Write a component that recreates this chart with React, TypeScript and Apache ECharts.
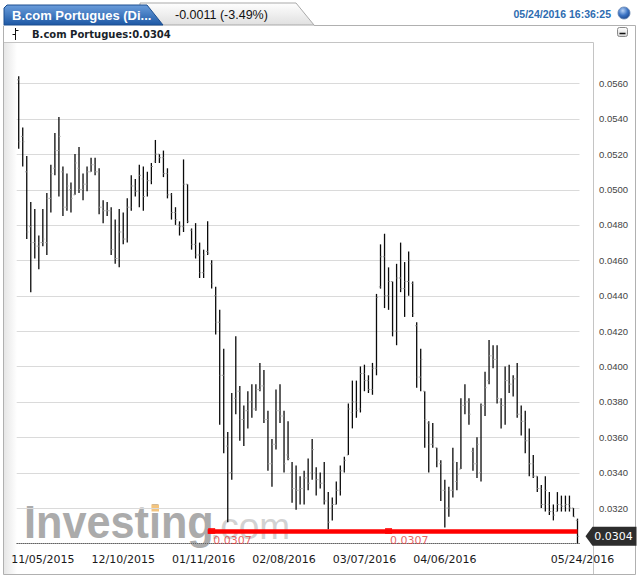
import React, { useEffect, useRef } from "react";
import * as echarts from "echarts";

// ---- Data ----
const highs = [
  0.0564, 0.0535, 0.0519, 0.0493, 0.0489, 0.0474, 0.0489, 0.0498, 0.0514, 0.0532,
  0.0541, 0.0513, 0.0509, 0.0504, 0.052, 0.0524, 0.0509, 0.0513, 0.0518, 0.0518,
  0.0512, 0.0494, 0.0493, 0.049, 0.0483, 0.0489, 0.0487, 0.0495, 0.0508, 0.0506,
  0.0514, 0.0513, 0.051, 0.0515, 0.0528, 0.052, 0.0522, 0.0512, 0.0498, 0.049,
  0.0482, 0.0517, 0.0503, 0.0478, 0.0481, 0.047, 0.0466, 0.0482, 0.046, 0.0445,
  0.0432, 0.041, 0.0363, 0.0385, 0.0417, 0.0389, 0.0378, 0.0386, 0.039, 0.039,
  0.0402, 0.0398, 0.0375, 0.0359, 0.0387, 0.039, 0.0375, 0.0369, 0.0346, 0.0344,
  0.0338, 0.0341, 0.0348, 0.0359, 0.0343, 0.034, 0.0346, 0.0329, 0.0326, 0.0335,
  0.0344, 0.0349, 0.0379, 0.0392, 0.0392, 0.04, 0.0401, 0.0395, 0.0402, 0.0441,
  0.0469, 0.0475, 0.0456, 0.0448, 0.0458, 0.047, 0.0459, 0.0465, 0.0448, 0.0425,
  0.041, 0.0386, 0.0369, 0.0368, 0.0354, 0.0347, 0.0336, 0.0332, 0.0354, 0.0346,
  0.0382, 0.039, 0.0382, 0.0354, 0.036, 0.0379, 0.0397, 0.0415, 0.0412, 0.0412,
  0.0382, 0.04, 0.0401, 0.0395, 0.0402, 0.0378, 0.0375, 0.0365, 0.035, 0.0338,
  0.0333, 0.0338, 0.0329, 0.0322, 0.0329, 0.0327, 0.0327, 0.0327, 0.032, 0.0314,
];
const lows = [
  0.0523, 0.0513, 0.0472, 0.0442, 0.0461, 0.0455, 0.0468, 0.0463, 0.0487, 0.0508,
  0.0496, 0.0485, 0.0488, 0.0487, 0.0497, 0.0498, 0.0494, 0.0499, 0.051, 0.0508,
  0.0486, 0.0481, 0.0485, 0.0463, 0.0458, 0.0456, 0.0469, 0.047, 0.0488, 0.0496,
  0.049, 0.0488, 0.0496, 0.0503, 0.0515, 0.0515, 0.0507, 0.0495, 0.0483, 0.048,
  0.0474, 0.0476, 0.0481, 0.0466, 0.0461, 0.045, 0.045, 0.0463, 0.0444, 0.0418,
  0.0367, 0.0351, 0.0312, 0.0336, 0.0373, 0.0358, 0.0355, 0.0365, 0.0371, 0.0375,
  0.0386, 0.0368, 0.0341, 0.0332, 0.0353, 0.0368, 0.034, 0.0347, 0.0323, 0.0319,
  0.0322, 0.0322, 0.033, 0.0336, 0.0327, 0.0331, 0.0322, 0.0308, 0.0313, 0.0322,
  0.0327, 0.034, 0.035, 0.0365, 0.0371, 0.0374, 0.0386, 0.0385, 0.0384, 0.0395,
  0.0444, 0.0433, 0.0432, 0.0417, 0.0412, 0.0442, 0.0428, 0.044, 0.0428, 0.0388,
  0.0386, 0.0354, 0.034, 0.0354, 0.0343, 0.0324, 0.0309, 0.0315, 0.0326, 0.033,
  0.0342, 0.0373, 0.0367, 0.0341, 0.0337, 0.0335, 0.0372, 0.039, 0.0399, 0.0379,
  0.0365, 0.0367, 0.0385, 0.0383, 0.0371, 0.0361, 0.0351, 0.0338, 0.0337, 0.0329,
  0.032, 0.0318, 0.0316, 0.0313, 0.0318, 0.0318, 0.0318, 0.0318, 0.0315, 0.03,
];
const opens = [
  0.0562, 0.053, 0.051, 0.0479, 0.047, 0.0468, 0.047, 0.047, 0.0495, 0.0512,
  0.0522, 0.051, 0.049, 0.05, 0.0497, 0.0512, 0.05, 0.0503, 0.051, 0.0514,
  0.051, 0.049, 0.0488, 0.0488, 0.0466, 0.0461, 0.0476, 0.0472, 0.049, 0.0502,
  0.0499, 0.0506, 0.0499, 0.0505, 0.0516, 0.052, 0.0518, 0.0509, 0.0497, 0.0487,
  0.048, 0.0479, 0.0503, 0.0477, 0.0469, 0.0463, 0.0453, 0.0465, 0.0458, 0.044,
  0.0425, 0.0395, 0.0355, 0.034, 0.0382, 0.0386, 0.037, 0.0375, 0.038, 0.0376,
  0.0387, 0.0389, 0.037, 0.0345, 0.0356, 0.0375, 0.0372, 0.035, 0.034, 0.0331,
  0.033, 0.0331, 0.0337, 0.034, 0.034, 0.0336, 0.0334, 0.0324, 0.032, 0.0322,
  0.033, 0.0341, 0.035, 0.0374, 0.038, 0.0376, 0.0396, 0.0392, 0.0387, 0.0399,
  0.0445, 0.0462, 0.044, 0.0448, 0.042, 0.045, 0.0444, 0.0448, 0.0447, 0.0423,
  0.0394, 0.0386, 0.0368, 0.0356, 0.0354, 0.0345, 0.033, 0.032, 0.033, 0.0335,
  0.0342, 0.0378, 0.038, 0.0352, 0.0345, 0.034, 0.0378, 0.0392, 0.0406, 0.0404,
  0.038, 0.0378, 0.0392, 0.039, 0.0393, 0.0373, 0.0369, 0.0358, 0.0345, 0.0338,
  0.0331, 0.0322, 0.0322, 0.0318, 0.0318, 0.0322, 0.0321, 0.0322, 0.032, 0.0313,
];
const closes = [
  0.0527, 0.0527, 0.0476, 0.047, 0.0468, 0.047, 0.0472, 0.0495, 0.0509, 0.0522,
  0.053, 0.049, 0.0502, 0.0495, 0.0515, 0.05, 0.0503, 0.051, 0.0514, 0.051,
  0.049, 0.0488, 0.0488, 0.0466, 0.0461, 0.0476, 0.0472, 0.049, 0.0502, 0.0499,
  0.0508, 0.0496, 0.0505, 0.0513, 0.052, 0.0518, 0.0509, 0.0497, 0.0487, 0.0483,
  0.0479, 0.0503, 0.0482, 0.0469, 0.0463, 0.0453, 0.0463, 0.0464, 0.0447, 0.0425,
  0.0395, 0.036, 0.034, 0.038, 0.0386, 0.037, 0.0375, 0.038, 0.0376, 0.0387,
  0.0389, 0.037, 0.0345, 0.0356, 0.0375, 0.0372, 0.0345, 0.0348, 0.0331, 0.033,
  0.0331, 0.0337, 0.0334, 0.0353, 0.0336, 0.0334, 0.0324, 0.0312, 0.0322, 0.033,
  0.0341, 0.0347, 0.0376, 0.038, 0.0375, 0.0396, 0.0392, 0.0387, 0.0399, 0.0439,
  0.0462, 0.044, 0.0448, 0.042, 0.045, 0.0444, 0.0448, 0.046, 0.043, 0.0394,
  0.0404, 0.037, 0.0356, 0.036, 0.0347, 0.033, 0.032, 0.033, 0.0346, 0.0339,
  0.0378, 0.038, 0.0373, 0.0345, 0.0356, 0.0378, 0.0388, 0.0406, 0.0404, 0.0382,
  0.0378, 0.0392, 0.039, 0.0393, 0.0373, 0.0369, 0.0358, 0.0345, 0.0338, 0.0331,
  0.0322, 0.033, 0.0318, 0.0316, 0.0322, 0.0321, 0.0322, 0.032, 0.0315, 0.0304,
];
const categories = highs.map((_, i) => String(i + 1));
const xTickIndex = [6, 26, 46, 66, 86, 106, 139];
const xTickLabels = ["11/05/2015", "12/10/2015", "01/11/2016", "02/08/2016", "03/07/2016", "04/06/2016", "05/24/2016"];
const yTicks = [0.032, 0.034, 0.036, 0.038, 0.04, 0.042, 0.044, 0.046, 0.048, 0.05, 0.052, 0.054, 0.056];
const lastPrice = 0.0304;
const supportLevel = 0.0307;
const supportStart = 47;
const supportHandles = [48, 92];
const titleText = "B.com Portugues (Di...";
const changeText = "-0.0011 (-3.49%)";
const timeText = "05/24/2016 16:36:25";
const legendText = "B.com Portugues:0.0304";

export default function App() {
  const ref = useRef<HTMLDivElement>(null);
  useEffect(() => {
    if (!ref.current) return;
    const chart = echarts.init(ref.current, null, { renderer: "svg", width: 643, height: 576 });
    const ohlc = highs.map((h, i) => [i, opens[i], closes[i], lows[i], h]);
    const vGrad = (a: string, b: string) => new echarts.graphic.LinearGradient(0, 0, 0, 1, [
      { offset: 0, color: a },
      { offset: 1, color: b },
    ]);
    const isTick = (v: number) => yTicks.some((t) => Math.abs(t - v) < 1e-9);
    const option: any = {
      animation: false,
      backgroundColor: "#ffffff",
      grid: { left: 16.7, right: 63.5, top: 43, bottom: 32.6 },
      xAxis: {
        type: "category",
        data: categories,
        boundaryGap: true,
        axisLine: { show: true, lineStyle: { color: "#cccccc" } },
        axisTick: { show: false },
        splitLine: { show: false },
        axisLabel: {
          interval: (i: number) => xTickIndex.indexOf(i) >= 0,
          formatter: (_v: string, i: number) => {
            const k = xTickIndex.indexOf(i);
            if (k < 0) return "";
            return k === xTickLabels.length - 1 ? "{last|" + xTickLabels[k] + "}" : xTickLabels[k];
          },
          color: "#1a1a1a",
          fontFamily: "DejaVu Sans",
          fontSize: 11,
          margin: 11,
          rich: {
            last: { padding: [0, 0, 0, 10], color: "#1a1a1a", fontFamily: "DejaVu Sans", fontSize: 11 },
          },
        },
      },
      yAxis: {
        type: "value",
        position: "right",
        min: 0.03,
        max: 0.05828,
        interval: 0.002,
        offset: 13.5,
        axisLine: { show: false },
        axisTick: { show: false },
        splitLine: { show: false },
        axisLabel: {
          showMinLabel: false,
          showMaxLabel: false,
          formatter: (v: number) => (isTick(v) ? v.toFixed(4) : ""),
          margin: 6,
          color: "#444444",
          fontFamily: "Liberation Sans, Arial, sans-serif",
          fontSize: 9.5,
        },
      },
      graphic: [
        // header tabs
        { type: "polygon", z: 0, shape: { points: [[140, 25], [140, 3], [296, 3], [314, 25]] }, style: { fill: vGrad("#fefefe", "#e0e0e0"), stroke: "#a9a9a9", lineWidth: 1 } },
        { type: "polygon", z: 1, shape: { points: [[4, 25], [4, 8], [7, 5], [147, 5], [163, 25]] }, style: { fill: vGrad("#6a9ddb", "#1d58a5"), stroke: "#1d4e8f", lineWidth: 1 } },
        { type: "polyline", z: 0, shape: { points: [[314, 25.5], [635.5, 25.5], [635.5, 574.5], [3.5, 574.5], [3.5, 25.5]] }, style: { stroke: "#b0b0b0", lineWidth: 1, fill: "none" } },
        { type: "line", z: 0, shape: { x1: 4, y1: 42.5, x2: 593.5, y2: 42.5 }, style: { stroke: "#c4c4c4", lineWidth: 1 } },
        { type: "line", z: 0, shape: { x1: 593.5, y1: 42.5, x2: 593.5, y2: 574 }, style: { stroke: "#c4c4c4", lineWidth: 1 } },
        { type: "rect", z: 0, shape: { x: 4, y: 43, width: 13, height: 531 }, style: { fill: new echarts.graphic.LinearGradient(0, 0, 1, 0, [{ offset: 0, color: "#e6e6e6" }, { offset: 1, color: "#ffffff" }]) } },
        { type: "text", z: 2, x: 12, y: 15, style: { text: titleText, fill: "#ffffff", font: "bold 13px Arial, 'Liberation Sans', sans-serif", verticalAlign: "middle", align: "left" } },
        { type: "text", z: 2, x: 175, y: 15, style: { text: changeText, fill: "#111111", font: "12.5px Arial, 'Liberation Sans', sans-serif", verticalAlign: "middle", align: "left" } },
        { type: "text", z: 2, x: 611, y: 14, style: { text: timeText, fill: "#2e6cb0", font: "bold 10.5px Arial, 'Liberation Sans', sans-serif", verticalAlign: "middle", align: "right" } },
        { type: "circle", z: 2, shape: { cx: 624, cy: 13, r: 6 }, style: { fill: new echarts.graphic.RadialGradient(0.4, 0.3, 0.8, [{ offset: 0, color: "#b8d2f5" }, { offset: 0.5, color: "#3c74c4" }, { offset: 1, color: "#163f85" }]), stroke: "#6a86b0", lineWidth: 0.8 } },
        // legend row
        { type: "line", z: 2, shape: { x1: 15.5, y1: 28, x2: 15.5, y2: 40 }, style: { stroke: "#111", lineWidth: 1 } },
        { type: "line", z: 2, shape: { x1: 12.5, y1: 34.5, x2: 15.5, y2: 34.5 }, style: { stroke: "#111", lineWidth: 1 } },
        { type: "line", z: 2, shape: { x1: 15.5, y1: 30.5, x2: 18.5, y2: 30.5 }, style: { stroke: "#111", lineWidth: 1 } },
        { type: "text", z: 2, x: 32, y: 34, style: { text: legendText, fill: "#1a1f2a", font: "bold 10px 'DejaVu Sans', Verdana, sans-serif", verticalAlign: "middle", align: "left" } },
        { type: "rect", z: 2, shape: { x: 617.5, y: 27.5, width: 10, height: 9, r: 2 }, style: { fill: vGrad("#ffffff", "#d6d6d6"), stroke: "#8a8a8a", lineWidth: 1 } },
        { type: "line", z: 3, shape: { x1: 619.5, y1: 33.5, x2: 625.5, y2: 33.5 }, style: { stroke: "#111", lineWidth: 1.5 } },
        // watermark
        { type: "text", z: 0, x: 24, y: 522, scaleX: 0.94, style: { text: "Investing", fill: "#ababab", font: "bold 46px Arial, 'Liberation Sans', sans-serif", verticalAlign: "middle", align: "left" } },
        { type: "rect", z: 1, shape: { x: 151.5, y: 504.5, width: 7.5, height: 7 }, style: { fill: "#f3c47e" } },
        { type: "text", z: 0, x: 210, y: 526, style: { text: ".com", fill: "#d2d2d2", font: "37px Arial, 'Liberation Sans', sans-serif", verticalAlign: "middle", align: "left" } },
      ],
      series: [
        {
          name: "grid",
          type: "custom",
          z: 1,
          silent: true,
          data: yTicks.map((v) => [0, v]),
          encode: { x: 0, y: 1 },
          renderItem: (params: any, api: any) => {
            const cs = params.coordSys;
            const y = Math.round(api.coord([0, api.value(1)])[1]) + 0.5;
            return {
              type: "line",
              shape: { x1: cs.x, y1: y, x2: cs.x + cs.width, y2: y },
              style: { stroke: "#dadada", lineWidth: 1 },
            };
          },
        },
        {
          name: "B.com Portugues",
          type: "custom",
          z: 3,
          data: ohlc,
          encode: { x: 0, y: [1, 2, 3, 4] },
          renderItem: (_p: any, api: any) => {
            const idx = api.value(0);
            const pO = api.coord([idx, api.value(1)]);
            const pC = api.coord([idx, api.value(2)]);
            const pL = api.coord([idx, api.value(3)]);
            const pH = api.coord([idx, api.value(4)]);
            const x = pH[0];
            return {
              type: "group",
              children: [
                { type: "line", shape: { x1: x, y1: pH[1], x2: x, y2: pL[1] }, style: { stroke: "#0a0a0a", lineWidth: 1.3 } },
                { type: "line", shape: { x1: x - 1.6, y1: pO[1], x2: x, y2: pO[1] }, style: { stroke: "#9a9a9a", lineWidth: 1 } },
                { type: "line", shape: { x1: x, y1: pC[1], x2: x + 1.6, y2: pC[1] }, style: { stroke: "#9a9a9a", lineWidth: 1 } },
              ],
            };
          },
        },
        {
          name: "support",
          type: "scatter",
          z: 5,
          silent: true,
          symbol: "rect",
          symbolSize: [7, 6],
          itemStyle: { color: "#ff0000" },
          data: supportHandles.map((i) => [i, supportLevel]),
          label: {
            show: true,
            position: [5, 7],
            align: "left",
            verticalAlign: "top",
            formatter: () => supportLevel.toFixed(4),
            color: "#e03a3a",
            fontFamily: "DejaVu Sans",
            fontSize: 11,
          },
          markLine: {
            silent: true,
            symbol: ["none", "none"],
            label: { show: false },
            data: [
              [
                { coord: [supportStart, supportLevel] },
                { coord: [highs.length - 1, supportLevel] },
              ],
              { yAxis: lastPrice, lineStyle: { color: "#333333", type: "dotted", width: 1 } },
            ],
            lineStyle: { color: "#ff0000", type: "solid", width: 4.5 },
          },
        },
        {
          name: "last",
          type: "custom",
          z: 6,
          clip: false,
          data: [[highs.length - 1, lastPrice]],
          renderItem: (_p: any, api: any) => {
            const p = api.coord([api.value(0), api.value(1)]);
            const x = p[0];
            const y = p[1];
            return {
              type: "group",
              children: [
                {
                  type: "polygon",
                  shape: { points: [[x + 8, y], [x + 15, y - 9.5], [x + 59, y - 9.5], [x + 59, y + 9.5], [x + 15, y + 9.5]] },
                  style: { fill: "#2d2d2d" },
                },
                {
                  type: "text",
                  x: x + 36,
                  y: y,
                  style: { text: api.value(1).toFixed(4), fill: "#ffffff", font: "11px 'DejaVu Sans', sans-serif", align: "center", verticalAlign: "middle" },
                },
              ],
            };
          },
        },
      ],
    };
    chart.setOption(option);
    return () => chart.dispose();
  }, []);
  return <div ref={ref} style={{ position: "fixed", left: 0, top: 0, width: 643, height: 576 }} />;
}
